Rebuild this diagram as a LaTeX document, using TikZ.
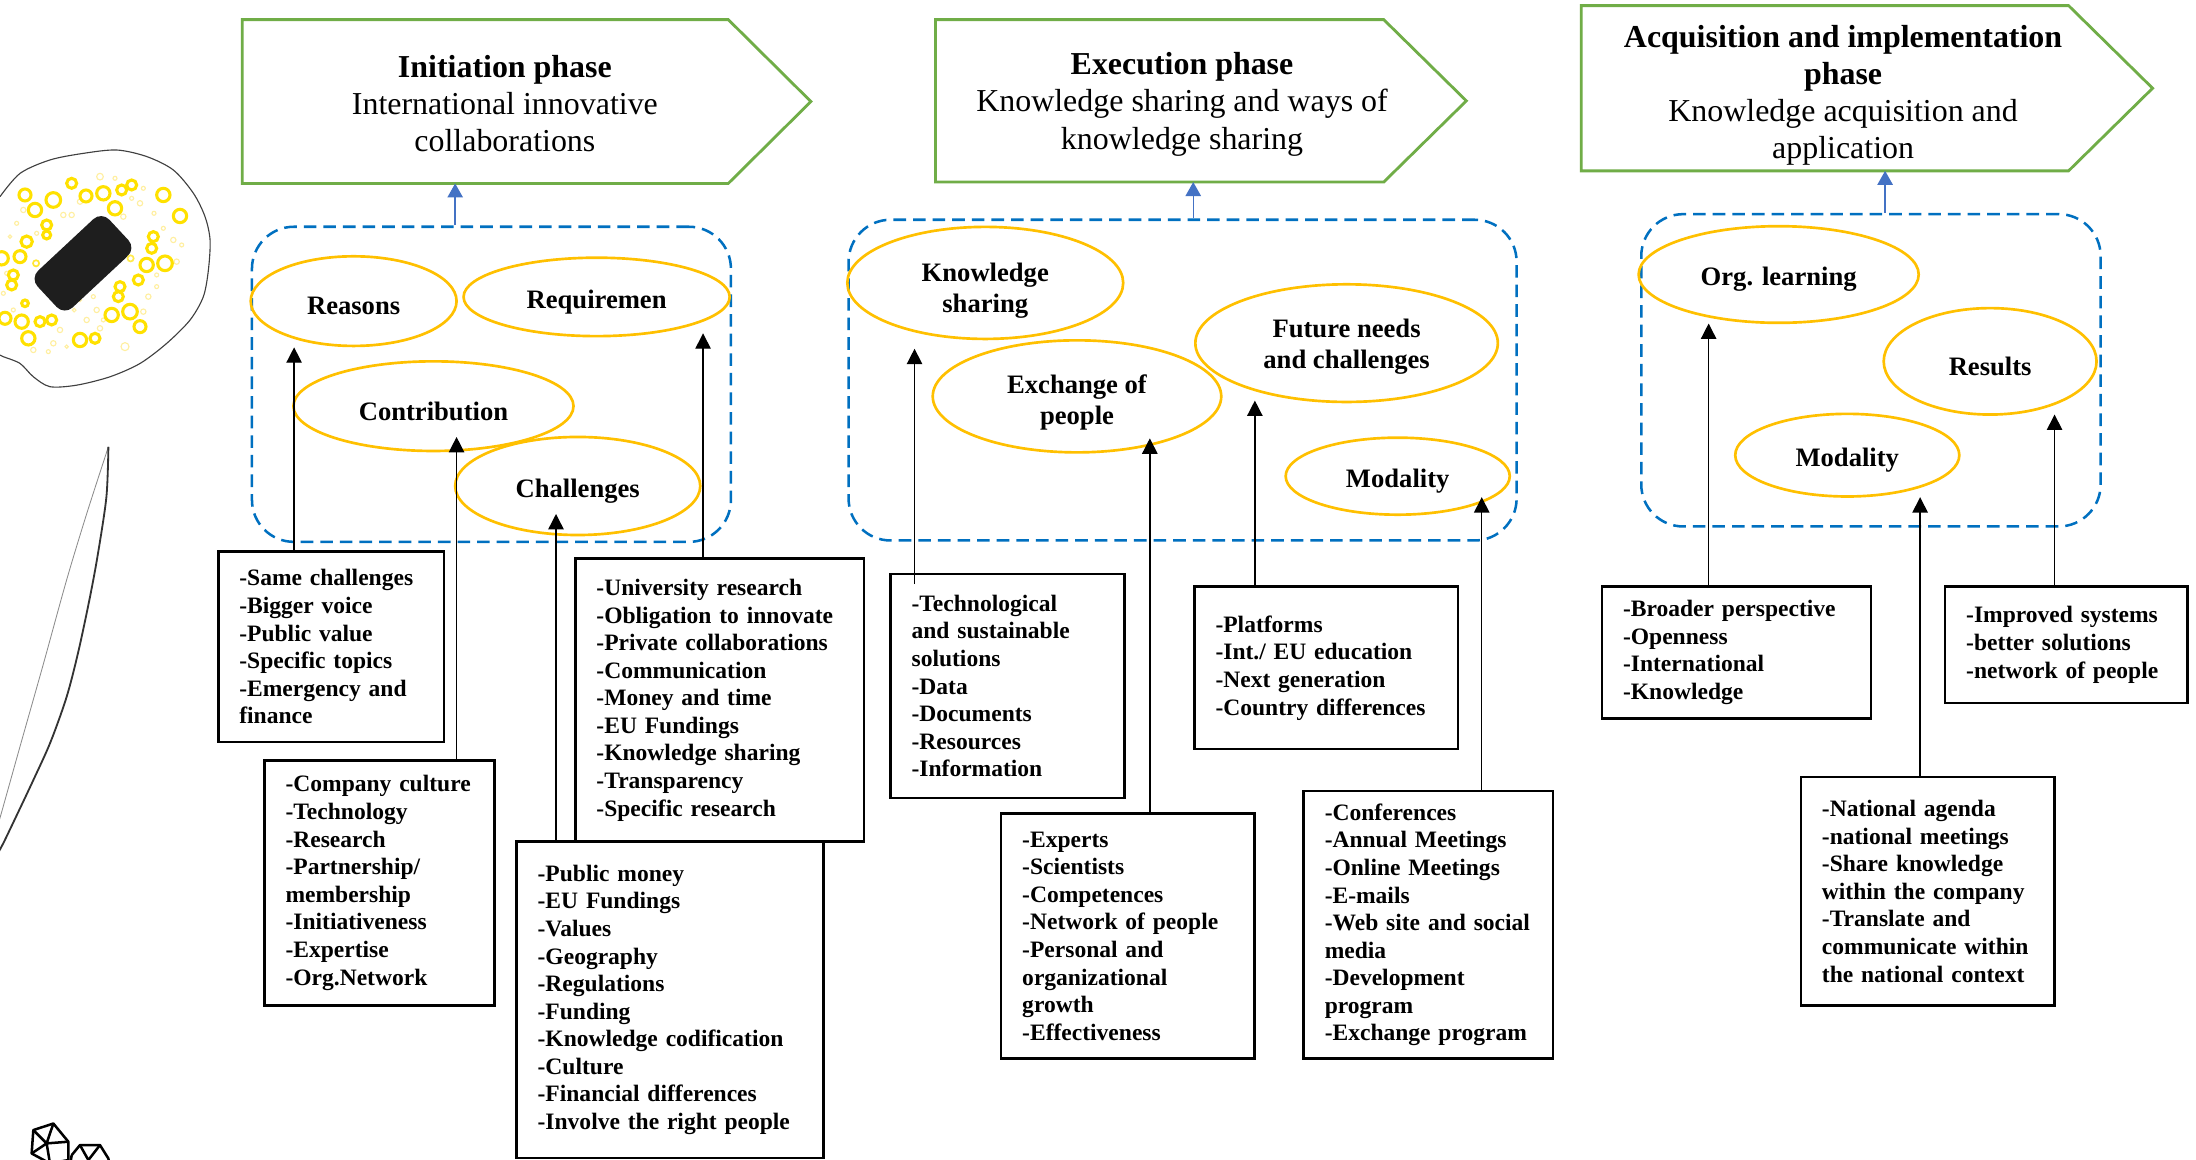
\documentclass[tikz,border=0pt]{standalone}
\usepackage{fontspec}
\setmainfont{Liberation Serif}
\usetikzlibrary{arrows.meta,shapes.geometric,calc}
\definecolor{hdrgreen}{HTML}{70AD47}
\definecolor{grpblue}{HTML}{0070C0}
\definecolor{ovalorange}{HTML}{FFC000}
\definecolor{arrblue}{HTML}{4472C4}
\definecolor{ringyellow}{HTML}{FFE100}
\definecolor{ringpale}{HTML}{FFEFA0}
\definecolor{inkdark}{HTML}{1E1E1E}
% invisible strut that lowers a label inside its ellipse
\newcommand\lowerby[1]{\rule{0pt}{#1}}
\begin{document}
\begin{tikzpicture}[x=1pt,y=-1pt,
  hdr/.style={draw=hdrgreen, line width=2pt, line join=miter},
  hdrtext/.style={align=center, inner sep=0pt, font=\fontsize{22.8}{26.5}\selectfont},
  grp/.style={draw=grpblue, line width=1.8pt, dash pattern=on 9pt off 5pt, rounded corners=30pt, anchor=north west, inner sep=0pt},
  oval/.style={ellipse, draw=ovalorange, line width=1.9pt, inner sep=0pt, align=center,
               font=\bfseries\fontsize{19}{22}\selectfont},
  listbox/.style={draw, line width=1.8pt, anchor=north west, inner xsep=15pt, inner ysep=0pt, align=left, font=\bfseries\fontsize{16.8}{19.7}\selectfont},
  arr/.style={line width=1pt, -{Triangle[length=11pt,width=11pt]}},
  barr/.style={draw=arrblue, line width=1pt, -{Triangle[length=10pt,width=11pt]}, arrblue},
  ring/.style={draw=ringyellow, line width=2.2pt},
  faint/.style={draw=ringpale, line width=0.8pt}
]
\path[use as bounding box, fill=white] (0,0) rectangle (1568,828);

% ---------- decoration on the left ----------
\draw[black!75, line width=0.8pt] plot[smooth] coordinates {
  (0,140.4) (14.3,123.8) (35.7,114.2) (59.5,109.5) (83.3,107.1) (104.8,111.8)
  (123.8,121.4) (138.1,138) (146.4,154.7) (150,171.4) (148.8,192.8) (145.2,211.8)
  (135.7,228.5) (119,245.2) (100,259.5) (78.6,269) (54.8,275) (35.7,276.1)
  (23.8,269) (14.3,259.5) (2.4,254.7) (0,253.5)};
\begin{scope}[shift={(0,92.8)}, scale=0.238]
  \foreach \px/\py/\r in {300/140/10, 240/215/8, 190/255/8, 215/255/8, 420/220/8,
      430/175/6, 70/240/8, 50/280/6, 30/320/5, 110/310/6, 20/430/6, 10/490/6,
      40/540/6, 180/600/8, 160/640/8, 145/665/6, 100/660/8, 200/650/5, 260/570/8,
      290/540/8, 310/570/6, 375/650/12, 430/545/8, 445/500/8, 470/470/6, 470/435/6,
      520/330/8, 545/345/6, 530/395/8, 490/295/6, 462/250/6, 370/260/8, 395/205/6,
      345/145/6, 280/500/6, 300/595/8, 240/510/5}
    \draw[faint] (\px,\py) circle[radius=\r];
  \foreach \px/\py/\r in {75/195/18, 105/240/20, 160/210/22, 215/160/15, 258/198/18,
      310/190/20, 365/180/15, 395/165/15, 345/235/20, 490/195/20, 540/258/20,
      460/320/15, 455/355/15, 140/285/15, 140/315/12, 80/335/17, 60/380/18, 5/385/20,
      40/435/15, 35/465/15, 75/520/10, 15/565/18, 65/575/20, 120/575/15, 155/570/15,
      85/625/20, 240/630/20, 285/625/15, 335/555/20, 390/545/22, 420/590/18,
      440/405/20, 495/400/22, 415/450/15, 360/470/15, 355/500/15}
    \draw[ring] (\px,\py) circle[radius=\r];
\end{scope}
\node[fill=inkdark, minimum width=70pt, minimum height=36pt, rounded corners=8pt,
      rotate=43, inner sep=0pt] (stone) at (59.25,188) {};
\draw[draw=ringyellow!80!white, line width=1.2pt] (stone.center) ++(-33.5,0) circle[radius=2.2];
\draw[draw=ringyellow!70!white, line width=1.2pt] (stone.center) ++(34,-3.5) circle[radius=2.2];
\draw[draw=ringpale, line width=0.8pt] (stone.center) ++(-6.3,33.4) circle[radius=1.3];

% blade
\draw[black!45, line width=0.6pt] plot[smooth] coordinates {
  (77.4,319) (62,366.5) (47.6,414) (31,474) (14.3,533) (0,584) (-2,590)};
\draw[black!80, line width=1.3pt] plot[smooth] coordinates {
  (77.4,319) (76,354.6) (70,395) (64.3,426) (56,465) (47.6,497.5) (36,530)
  (23.8,557) (12,582) (2.4,602) (-2,610)};

% polyhedra
\begin{scope}[line width=1.8pt, line join=round]
  \draw (23.8,806.9) -- (38.1,802.2) -- (48.8,815.2) -- (48.8,828.3) -- (35.7,830.7) -- (22.6,823.6) -- cycle;
  \draw (38.1,802.2) -- (33.3,816.4) (23.8,806.9) -- (33.3,816.4) -- (48.8,815.2)
        (22.6,823.6) -- (33.3,816.4) -- (35.7,830.7);
  \draw (51.2,824.8) -- (57.1,817.6) -- (71.4,817.6) -- (77.4,827.2) -- (78,832);
  \draw (57.1,817.6) -- (63.1,828.3) -- (71.4,817.6) (51.2,824.8) -- (50,832);
\end{scope}

% ---------- phase headers ----------
\draw[hdr] (173,14) -- (520,14) -- (579,72.5) -- (520,131) -- (173,131) -- cycle;
\draw[hdr] (668,14) -- (988,14) -- (1047,72) -- (988,130) -- (668,130) -- cycle;
\draw[hdr] (1129,4) -- (1477,4) -- (1537,63) -- (1477,122) -- (1129,122) -- cycle;
\node[hdrtext] (T1) at (360.5,74) {\textbf{Initiation phase}\\International innovative\\collaborations};
\node[hdrtext] (T2) at (844,74.5) {\textbf{Execution phase}\\Knowledge sharing and ways of\\knowledge sharing};
\node[hdrtext] (T3) at (1316,68) {\textbf{Acquisition and implementation}\\\textbf{phase}\\Knowledge acquisition and\\application};
\coordinate (h1b) at (325,131);
\coordinate (h2b) at (852,130);
\coordinate (h3b) at (1346,122);

% ---------- dashed groups ----------
\node[grp, minimum width=342pt, minimum height=225pt] (G1) at (179,161) {};
\node[grp, minimum width=477pt, minimum height=229pt] (G2) at (605,156) {};
\node[grp, minimum width=328pt, minimum height=223pt] (G3) at (1171,152) {};
\draw[barr] (G1.north -| h1b) -- (h1b);
\draw[barr] (G2.north -| h2b) -- (h2b);
\draw[barr] (G3.north -| h3b) -- (h3b);

% ---------- themes ----------
\node[oval, minimum width=147pt, minimum height=64pt] (reasons) at (252.5,215) {\lowerby{20pt}Reasons};
\node[oval, minimum width=190pt, minimum height=56pt] (requir) at (426,212) {\lowerby{20pt}Requiremen};
\node[oval, minimum width=200pt, minimum height=64pt] (contrib) at (309.5,290) {\lowerby{20pt}Contribution};
\node[oval, minimum width=175pt, minimum height=70pt] (challen) at (412.5,347) {\lowerby{20pt}Challenges};

\node[oval, minimum width=197pt, minimum height=80pt] (ksharing) at (703.5,202) {\lowerby{24pt}Knowledge\\sharing};
\node[oval, minimum width=206pt, minimum height=80pt] (exchange) at (769,283) {\lowerby{22pt}Exchange of\\people};
\node[oval, minimum width=216pt, minimum height=84pt] (future) at (961.5,245) {\lowerby{18pt}Future needs\\and challenges};
\node[oval, minimum width=160pt, minimum height=55pt] (modalityA) at (998,340) {\lowerby{20pt}Modality};

\node[oval, minimum width=200pt, minimum height=69pt] (orglearn) at (1270,196) {\lowerby{20pt}Org. learning};
\node[oval, minimum width=152pt, minimum height=76pt] (results) at (1421,258) {\lowerby{20pt}Results};
\node[oval, minimum width=160pt, minimum height=59pt] (modalityB) at (1319,325) {\lowerby{20pt}Modality};

% ---------- item lists ----------
\node[listbox, text width=131pt, minimum height=136pt] (A) at (155,393)
  {-Same challenges\\-Bigger voice\\-Public value\\-Specific topics\\-Emergency and\\finance};
\node[listbox, text width=134pt, minimum height=175pt] (B) at (188,542)
  {-Company culture\\-Technology\\-Research\\-Partnership/\\membership\\-Initiativeness\\-Expertise\\-Org.Network};
\node[listbox, text width=176pt, minimum height=202pt] (C) at (410,398)
  {-University research\\-Obligation to innovate\\-Private collaborations\\-Communication\\-Money and time\\-EU Fundings\\-Knowledge sharing\\-Transparency\\-Specific research};
\node[listbox, text width=189pt, minimum height=226pt] (D) at (368,600)
  {-Public money\\-EU Fundings\\-Values\\-Geography\\-Regulations\\-Funding\\-Knowledge codification\\-Culture\\-Financial differences\\-Involve the right people};

\node[listbox, text width=137pt, minimum height=160pt] (E) at (635,409)
  {-Technological\\and sustainable\\solutions\\-Data\\-Documents\\-Resources\\-Information};
\node[listbox, text width=151pt, minimum height=175pt] (F) at (714,580)
  {-Experts\\-Scientists\\-Competences\\-Network of people\\-Personal and\\organizational\\growth\\-Effectiveness};
\node[listbox, text width=158pt, minimum height=116pt] (G) at (852,418)
  {-Platforms\\-Int./ EU education\\-Next generation\\-Country differences};
\node[listbox, text width=148pt, minimum height=191pt] (H) at (930,564)
  {-Conferences\\-Annual Meetings\\-Online Meetings\\-E-mails\\-Web site and social\\media\\-Development\\program\\-Exchange program};

\node[listbox, text width=162pt, minimum height=94pt] (I) at (1143,418)
  {-Broader perspective\\-Openness\\-International\\-Knowledge};
\node[listbox, text width=151pt, minimum height=163pt] (J) at (1285,554)
  {-National agenda\\-national meetings\\-Share knowledge\\within the company\\-Translate and\\communicate within\\the national context};
\node[listbox, text width=143pt, minimum height=83pt] (K) at (1388,418)
  {-Improved systems\\-better solutions\\-network of people};

% ---------- connectors ----------
\coordinate (tA) at (210,248);
\coordinate (tB) at (326,312);
\coordinate (tC) at (502,238);
\coordinate (tD) at (397,367);
\coordinate (tE) at (653,249);
\coordinate (tF) at (821,313);
\coordinate (tG) at (896,286);
\coordinate (tH) at (1058,355);
\coordinate (tI) at (1220,231);
\coordinate (tJ) at (1371,355);
\coordinate (tK) at (1467,296);
\draw[arr] (A.north -| tA) -- (tA);
\draw[arr] (B.north -| tB) -- (tB);
\draw[arr] (C.north -| tC) -- (tC);
\draw[arr] (D.north -| tD) -- (tD);
\draw[arr] ($(E.north -| tE)+(0,8)$) -- (tE);
\draw[arr] (F.north -| tF) -- (tF);
\draw[arr] (G.north -| tG) -- (tG);
\draw[arr] (H.north -| tH) -- (tH);
\draw[arr] (I.north -| tI) -- (tI);
\draw[arr] (J.north -| tJ) -- (tJ);
\draw[arr] (K.north -| tK) -- (tK);
\end{tikzpicture}
\end{document}
